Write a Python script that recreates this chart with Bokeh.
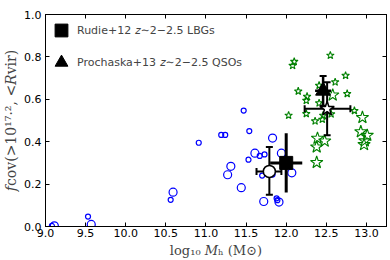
import math
from bokeh.plotting import figure
from bokeh.models import Range1d, FixedTicker, LinearAxis, Legend, LegendItem, PrintfTickFormatter, CustomJSTickFormatter
from bokeh.embed import file_html
from bokeh.resources import INLINE

# ---- data ----
x_ticks = [9.0, 9.5, 10.0, 10.5, 11.0, 11.5, 12.0, 12.5, 13.0]
y_ticks = [0.0, 0.2, 0.4, 0.6, 0.8, 1.0]

blue_small_x = [9.08, 9.53, 10.56, 10.91, 11.47, 11.19, 11.24, 11.54, 11.53, 11.67, 11.73, 11.70, 11.83, 11.88, 11.89]
blue_small_y = [0.003, 0.047, 0.126, 0.395, 0.547, 0.432, 0.432, 0.450, 0.315, 0.333, 0.340, 0.240, 0.245, 0.133, 0.124]
blue_large_x = [9.11, 9.57, 10.59, 11.31, 11.27, 11.44, 11.61, 11.83, 11.94, 12.07, 11.72, 11.91]
blue_large_y = [0.003, 0.010, 0.162, 0.284, 0.244, 0.183, 0.346, 0.417, 0.346, 0.253, 0.118, 0.115]

green_small_x = [12.55, 12.10, 12.08, 12.74, 12.61, 12.41, 12.15, 12.76, 12.26, 12.25, 12.41, 12.03, 12.25, 12.36, 12.45, 12.46, 12.56, 12.85]
green_small_y = [0.807, 0.778, 0.759, 0.712, 0.681, 0.665, 0.638, 0.626, 0.613, 0.594, 0.582, 0.524, 0.532, 0.497, 0.505, 0.524, 0.530, 0.546]
green_large_x = [12.95, 12.93, 13.01, 12.98, 12.97, 12.39, 12.48, 12.38, 12.38, 12.58]
green_large_y = [0.514, 0.447, 0.430, 0.404, 0.386, 0.416, 0.403, 0.375, 0.302, 0.620]

rudie_x = [12.0]
rudie_y = [0.30]
rudie_xerr = [0.2]
rudie_yerr = [0.14]

proch_x = [12.46]
proch_y = [0.64]
proch_xerr = [0.10]
proch_yerr = [0.07]

simc_x = [11.79]
simc_y = [0.26]
simc_xlo = [11.63]
simc_xhi = [11.94]
simc_ylo = [0.15]
simc_yhi = [0.375]

sims_x = [12.51]
sims_y = [0.555]
sims_xlo = [12.23]
sims_xhi = [12.80]
sims_ylo = [0.43]
sims_yhi = [0.68]

TICK_FONT = "DejaVu Sans"
LABEL_FONT = "DejaVu Serif"

p = figure(width=390, height=260, output_backend="svg", toolbar_location=None,
           x_range=Range1d(9.0, 13.25), y_range=Range1d(0.0, 1.0),
           min_border_left=43, min_border_right=4, min_border_top=14, min_border_bottom=34)
p.xgrid.visible = False
p.ygrid.visible = False
p.outline_line_color = "black"
p.outline_line_width = 1
p.background_fill_color = "white"

for ax, ticks in ((p.xaxis[0], x_ticks), (p.yaxis[0], y_ticks)):
    ax.ticker = FixedTicker(ticks=ticks)
    ax.formatter = PrintfTickFormatter(format="%.1f")
    ax.major_tick_in = 4
    ax.major_tick_out = 0
    ax.minor_tick_line_color = None
    ax.axis_line_color = "black"
    ax.major_tick_line_color = "black"
    ax.major_label_text_font = TICK_FONT
    ax.major_label_text_font_size = "11px"
    ax.major_label_text_color = "black"

p.xaxis[0].major_label_standoff = 2
p.xaxis[0].axis_label = "log₁₀ 𝑀ₕ (M⊙)"
p.xaxis[0].axis_label_text_font = LABEL_FONT
p.xaxis[0].axis_label_text_font_size = "13px"
p.xaxis[0].axis_label_text_font_style = "normal"
p.xaxis[0].axis_label_standoff = 3

p.yaxis[0].major_label_standoff = 4
p.yaxis[0].axis_label = "𝑓cov(>10¹⁷·², <𝑅vir)"
p.yaxis[0].axis_label_text_font = LABEL_FONT
p.yaxis[0].axis_label_text_font_size = "14px"
p.yaxis[0].axis_label_text_font_style = "normal"
p.yaxis[0].axis_label_standoff = 2

for side, ticks in (("above", x_ticks), ("right", y_ticks)):
    a = LinearAxis(ticker=FixedTicker(ticks=ticks), major_tick_in=4, major_tick_out=0,
                   minor_tick_line_color=None,
                   formatter=CustomJSTickFormatter(code="return ''"),
                   major_label_standoff=0, axis_line_color="black")
    p.add_layout(a, side)

# simulation points
p.scatter(blue_small_x, blue_small_y, marker="circle", size=5, fill_color=None,
          line_color="blue", line_width=1.2)
p.scatter(blue_large_x, blue_large_y, marker="circle", size=8, fill_color=None,
          line_color="blue", line_width=1.2)
p.scatter(green_small_x, green_small_y, marker="star", size=8, fill_color=None,
          line_color="green", line_width=1.1)
p.scatter(green_large_x, green_large_y, marker="star", size=13, fill_color=None,
          line_color="green", line_width=1.1)

# error bars
def vbar(x, lo, hi, w):
    p.segment(x0=x, y0=lo, x1=x, y1=hi, line_color="black", line_width=w)

def hbar(y, lo, hi, w):
    p.segment(x0=lo, y0=y, x1=hi, y1=y, line_color="black", line_width=w)

# Rudie+12 (no caps)
vbar(rudie_x, [y - e for y, e in zip(rudie_y, rudie_yerr)], [y + e for y, e in zip(rudie_y, rudie_yerr)], 3)
hbar(rudie_y, [x - e for x, e in zip(rudie_x, rudie_xerr)], [x + e for x, e in zip(rudie_x, rudie_xerr)], 3)

# Prochaska+13
p_lo = [y - e for y, e in zip(proch_y, proch_yerr)]
p_hi = [y + e for y, e in zip(proch_y, proch_yerr)]
vbar(proch_x, p_lo, p_hi, 2.5)
hbar(proch_y, [x - e for x, e in zip(proch_x, proch_xerr)], [x + e for x, e in zip(proch_x, proch_xerr)], 2.5)
p.scatter(proch_x + proch_x, p_lo + p_hi, marker="dash", size=7, line_color="black", line_width=2)

# simulation medians
vbar(simc_x, simc_ylo, simc_yhi, 2)
hbar(simc_y, simc_xlo, simc_xhi, 2)
p.scatter(simc_x + simc_x, simc_ylo + simc_yhi, marker="dash", size=7, line_color="black", line_width=2)
p.scatter(simc_xlo + simc_xhi, simc_y + simc_y, marker="dash", angle=math.pi / 2, size=7,
          line_color="black", line_width=2)

vbar(sims_x, sims_ylo, sims_yhi, 2)
hbar(sims_y, sims_xlo, sims_xhi, 2)
p.scatter(sims_x + sims_x, sims_ylo + sims_yhi, marker="dash", size=7, line_color="black", line_width=2)
p.scatter(sims_xlo + sims_xhi, sims_y + sims_y, marker="dash", angle=math.pi / 2, size=7,
          line_color="black", line_width=2)

r_rudie = p.scatter(rudie_x, rudie_y, marker="square", size=13, fill_color="black", line_color="black")
r_proch = p.scatter(proch_x, proch_y, marker="triangle", size=15, fill_color="black", line_color="black")
p.scatter(simc_x, simc_y, marker="circle", size=12, fill_color="white", line_color="black", line_width=1.5)
p.scatter(sims_x, sims_y, marker="star", size=15, fill_color="white", line_color="black", line_width=1.5)

legend = Legend(items=[LegendItem(label="Rudie+12 𝑧∼2−2.5 LBGs", renderers=[r_rudie]),
                       LegendItem(label="Prochaska+13 𝑧∼2−2.5 QSOs", renderers=[r_proch])],
                location="top_left", margin=0, padding=2, spacing=-12,
                glyph_width=32, glyph_height=32, label_standoff=-2,
                label_text_font=TICK_FONT, label_text_font_size="11px",
                background_fill_alpha=0, border_line_color=None)
p.add_layout(legend)

open("out.html", "w").write(file_html(p, INLINE))
